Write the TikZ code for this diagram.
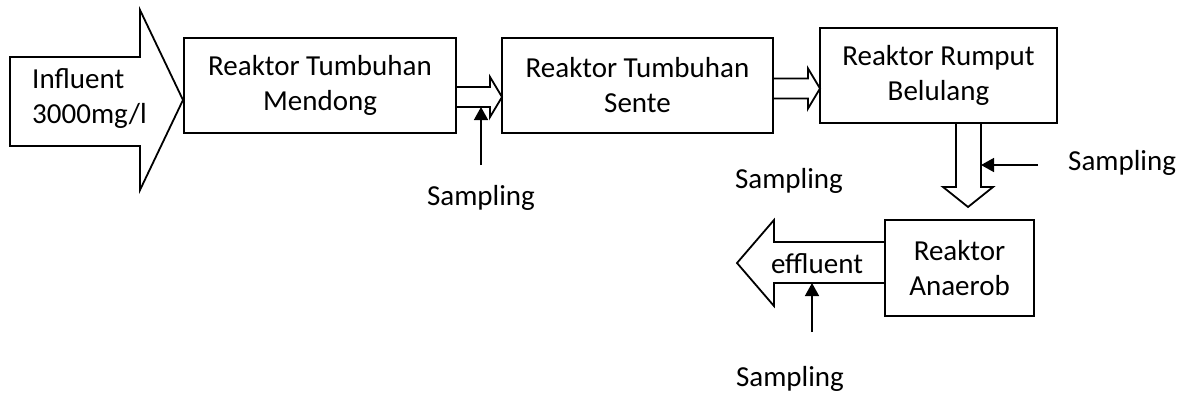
\documentclass[tikz,border=0pt]{standalone}
\usepackage{fontspec}
\setmainfont{Carlito}
\usetikzlibrary{arrows.meta}
\tikzset{
reaktor/.style={draw,line width=1.8pt,align=center,inner sep=0pt},
sampel/.style={line width=1.5pt,-{Triangle[length=13pt,width=14pt]}},
}
% hollow block arrow to the right: shaft start, head base, tip, centre y
\newcommand{\kanan}[4]{
\draw[line width=1.8pt] (#1,#4-10) -- (#2,#4-10) -- (#2,#4-20) -- (#3,#4) -- (#2,#4+20) -- (#2,#4+10) -- (#1,#4+10);}

\begin{document}
\begin{tikzpicture}[x=1pt,y=-1pt,font=\fontsize{29}{35}\selectfont]
\useasboundingbox (0,0) rectangle (1181,394);

% influent
\draw[line width=1.8pt] (10,57)--(140,57)--(140,10)--(183,100)--(140,190)--(140,146)--(10,146)--cycle;
\node[align=left,anchor=west,inner sep=0pt] (influent) at (32,99) {Influent\\3000mg/l};

% reaktor
\node[reaktor,minimum width=272pt,minimum height=95pt] (mendong) at (320,85.5) {Reaktor Tumbuhan\\Mendong};
\node[reaktor,minimum width=271pt,minimum height=95pt] (sente) at (637.5,85.5) {Reaktor Tumbuhan\\Sente};
\node[reaktor,minimum width=237pt,minimum height=95pt] (rumput) at (938.5,75.5) {Reaktor Rumput\\Belulang};
\node[reaktor,minimum width=149pt,minimum height=96pt] (anaerob) at (959.5,268) {Reaktor\\Anaerob};

\kanan{456}{490}{502}{97}
\kanan{773}{808}{820}{88.5}

% ke bawah
\draw[line width=1.8pt] (956,123)--(956,187)--(943,187)--(968,207)--(993,187)--(981,187)--(981,123);

% effluent
\draw[line width=1.8pt] (885,242)--(774,242)--(774,220)--(737,263)--(774,306)--(774,283)--(885,283);
\node[anchor=base,inner sep=0pt] (effluent) at (817,273) {effluent};

% sampling
\coordinate (sa1) at (481,165);
\coordinate (sb1) at (481,107);
\coordinate (sa3) at (1038,165);
\coordinate (sb3) at (981,165);
\coordinate (sa4) at (812,332);
\coordinate (sb4) at (812,283);
\draw[sampel] (sa1)--(sb1);
\draw[sampel] (sa3)--(sb3);
\draw[sampel] (sa4)--(sb4);

\node[anchor=base,inner sep=0pt] (samp1) at (481,205) {Sampling};
\node[anchor=base,inner sep=0pt] (samp2) at (789,188) {Sampling};
\node[anchor=base west,inner sep=0pt] (samp3) at (1068,170) {Sampling};
\node[anchor=base,inner sep=0pt] (samp4) at (790,386) {Sampling};
\end{tikzpicture}
\end{document}
